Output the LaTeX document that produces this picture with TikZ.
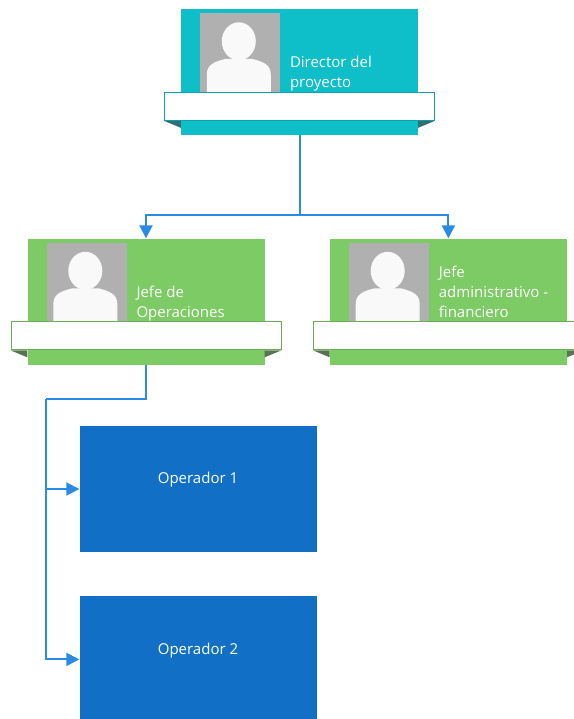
\documentclass[tikz,border=0pt]{standalone}
\usepackage{fontspec}
\setmainfont{Open Sans}
\definecolor{orgteal}{RGB}{14,190,201}
\definecolor{orggreen}{RGB}{125,203,100}
\definecolor{orgblue}{RGB}{17,112,198}
\definecolor{orglink}{RGB}{42,138,228}
\definecolor{orggray}{RGB}{176,176,176}
\usetikzlibrary{
  arrows.meta,
  calc,
  positioning,
}
\tikzset{
  >={Triangle[length=13pt,width=13pt]},
  link/.style={draw=orglink,line width=2pt},
  card/.style={rectangle,minimum width=237pt,minimum height=126pt,inner sep=0pt},
  photo/.style={rectangle,fill=orggray,minimum width=80pt,minimum height=80pt,inner sep=0pt},
  banner/.style={rectangle,fill=white,line width=1pt,minimum width=270pt,minimum height=28pt,inner sep=0pt},
  role/.style={text=white,align=left,inner sep=0pt,font=\fontsize{15}{20}\selectfont},
}

\begin{document}
\begin{tikzpicture}[x=1pt,y=-1pt,node distance=0pt and 0pt]
        \useasboundingbox (0,0) rectangle (573,719);

        \node[card,fill=orgteal]    (dir)   at (299.5,72)   {};
        \node[card,fill=orggreen]   (ops)   at (146,301.5)  {};
        \node[card,fill=orggreen]   (adm)   [right=65pt of ops]  {};
        \node[card,fill=orgblue]    (op1)   at (198,489)    {};
        \node[card,fill=orgblue]    (op2)   [below=44pt of op1]  {};

        \foreach \b/\c in {dir/orgteal,ops/orggreen,adm/orggreen} {
            \node[photo] (\b-ph) [below right=4pt and 19pt of \b.north west] {};
            \begin{scope}[shift={(\b-ph.north west)}]
                \fill[white!95!gray] (39,28.5) ellipse (17pt and 19pt);
                \fill[white!95!gray] (7,80) -- (7,62) .. controls (7,52) and (14,49) .. (26,46)
                    -- (52,46) .. controls (64,49) and (71,52) .. (71,62) -- (71,80) -- cycle;
            \end{scope}
            \node[banner,draw=\c!85!black] (\b-bn) [below=83pt of \b.north] {};
            \fill[\c!50!gray!70!black] (\b-bn.south west) -- (\b-bn.south west -| \b.west)
                -- ([yshift=-7pt]\b-bn.south west -| \b.west) -- cycle;
            \fill[\c!50!gray!70!black] (\b-bn.south east) -- (\b-bn.south east -| \b.east)
                -- ([yshift=-7pt]\b-bn.south east -| \b.east) -- cycle;
        }

        \node[role,anchor=base west] (dir-tx) at ($(dir.north west)+(109,79)$) {Director del\\proyecto};
        \node[role,anchor=base west] (ops-tx) at ($(ops.north west)+(109,79)$) {Jefe de\\Operaciones};
        \node[role,anchor=base west] (adm-tx) at ($(adm.north west)+(109,79)$) {Jefe\\administrativo -\\financiero};
        \node[role] (op1-tx) at ([yshift=9pt]op1.center) {Operador 1};
        \node[role] (op2-tx) at ([yshift=9pt]op2.center) {Operador 2};

        % connectors
        \coordinate (bus) at (299.5,215);
        \coordinate (elbow) at (146,399);
        \coordinate (rail) at (46,399);
        \draw[link] (dir.south) -- (bus);
        \draw[link,->] (bus) -| (ops.north);
        \draw[link,->] (bus) -| (adm.north);
        \draw[link] (ops.south) -- (elbow) -- (rail);
        \draw[link,->] (rail) |- (op1.west);
        \draw[link,->] (rail) |- (op2.west);
\end{tikzpicture}
\end{document}
